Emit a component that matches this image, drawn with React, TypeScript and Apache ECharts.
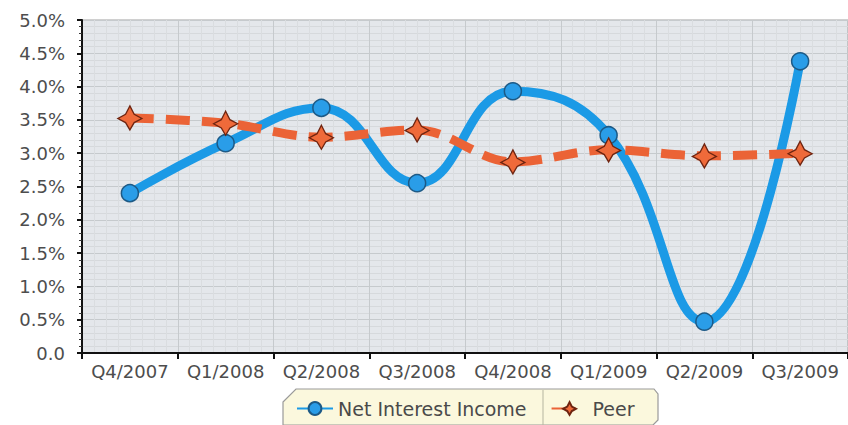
import React, { useEffect, useRef } from "react";
import * as echarts from "echarts";

const categories = ["Q4/2007", "Q1/2008", "Q2/2008", "Q3/2008", "Q4/2008", "Q1/2009", "Q2/2009", "Q3/2009"];
const netInterestIncome = [2.4, 3.15, 3.68, 2.55, 3.93, 3.27, 0.47, 4.38];
const peer = [3.53, 3.45, 3.24, 3.35, 2.87, 3.05, 2.96, 3.0];
const yTicks = { min: 0, max: 5, interval: 0.5 };

const STAR = "path://M0,-11 L3.6,-3.6 L10,0 L3.6,3.6 L0,10 L-3.6,3.6 L-10,0 L-3.6,-3.6 Z";
const FONT = "DejaVu Sans";

export default function App() {
  const ref = useRef<HTMLDivElement>(null);
  useEffect(() => {
    if (!ref.current) return;
    const chart = echarts.init(ref.current, undefined, { renderer: "svg" });
    chart.setOption({
      animation: false,
      backgroundColor: "#ffffff",
      grid: {
        left: 82,
        right: -6,
        top: 20,
        bottom: 72,
        show: true,
        backgroundColor: "#e4e7eb",
        borderColor: "#a0a0a0",
        borderWidth: 1,
      },
      graphic: [
        {
          type: "polygon",
          z: 0,
          shape: {
            points: [
              [283, 402],
              [296, 389],
              [654, 389],
              [658, 394],
              [658, 420],
              [653, 425],
              [283, 425],
            ],
          },
          style: { fill: "#fbf8dd", stroke: "#9a9a9a", lineWidth: 1.2 },
        },
        {
          type: "line",
          z: 1,
          shape: { x1: 543, y1: 390, x2: 543, y2: 425 },
          style: { stroke: "#b5b5a0", lineWidth: 1 },
        },
      ],
      legend: {
        left: 296,
        top: 399,
        itemWidth: 36,
        itemHeight: 16,
        itemGap: 24,
        padding: 0,
        textStyle: { fontFamily: FONT, fontSize: 19, color: "#4a4a4a" },
        data: ["Net Interest Income", "Peer"],
      },
      xAxis: [
        {
          type: "category",
          data: categories,
          boundaryGap: true,
          axisLine: { show: true, lineStyle: { color: "#111", width: 2 } },
          axisTick: { show: true, length: 6, lineStyle: { color: "#111", width: 2 } },
          axisLabel: { fontFamily: FONT, fontSize: 18, color: "#4d4d4d", margin: 9, interval: 0 },
          splitLine: { show: true, lineStyle: { color: "#c6cacd", width: 1 } },
        },
        {
          type: "value",
          min: 0,
          max: 8,
          interval: 1,
          show: true,
          axisLine: { show: false },
          axisTick: { show: false },
          axisLabel: { show: false },
          splitLine: { show: false },
          minorTick: { show: false, splitNumber: 8 },
          minorSplitLine: { show: true, lineStyle: { color: "#dadde0", width: 1 } },
        },
      ],
      yAxis: {
        type: "value",
        min: yTicks.min,
        max: yTicks.max,
        interval: yTicks.interval,
        axisLine: { show: true, lineStyle: { color: "#111", width: 2 } },
        axisTick: { show: true, length: 5, lineStyle: { color: "#111", width: 2 } },
        minorTick: { show: true, splitNumber: 5, length: 3, lineStyle: { color: "#333", width: 1 } },
        axisLabel: {
          fontFamily: FONT,
          fontSize: 18,
          color: "#4d4d4d",
          margin: 17,
          formatter: (v: number) => (v === 0 ? "0.0" : v.toFixed(1) + "%"),
        },
        splitLine: { show: true, lineStyle: { color: "#c6cacd", width: 1 } },
        minorSplitLine: { show: true, lineStyle: { color: "#d6d9dc", width: 1 } },
      },
      series: [
        {
          name: "Net Interest Income",
          type: "line",
          xAxisIndex: 0,
          data: netInterestIncome,
          smooth: 0.45,
          symbol: "circle",
          symbolSize: 17,
          lineStyle: { color: "#1b9ae6", width: 9 },
          itemStyle: { color: "#2a9de8", borderColor: "#1d5a86", borderWidth: 1.5 },
          z: 3,
        },
        {
          name: "Peer",
          type: "line",
          xAxisIndex: 0,
          data: peer,
          smooth: 0.35,
          symbol: STAR,
          symbolSize: 24,
          lineStyle: { color: "#eb6336", width: 9, type: [24, 12] },
          itemStyle: { color: "#ef6a3a", borderColor: "#6e2410", borderWidth: 1.3 },
          z: 4,
        },
      ],
    });
    return () => chart.dispose();
  }, []);
  return <div ref={ref} style={{ position: "fixed", left: 0, top: 0, width: 848, height: 425 }} />;
}
